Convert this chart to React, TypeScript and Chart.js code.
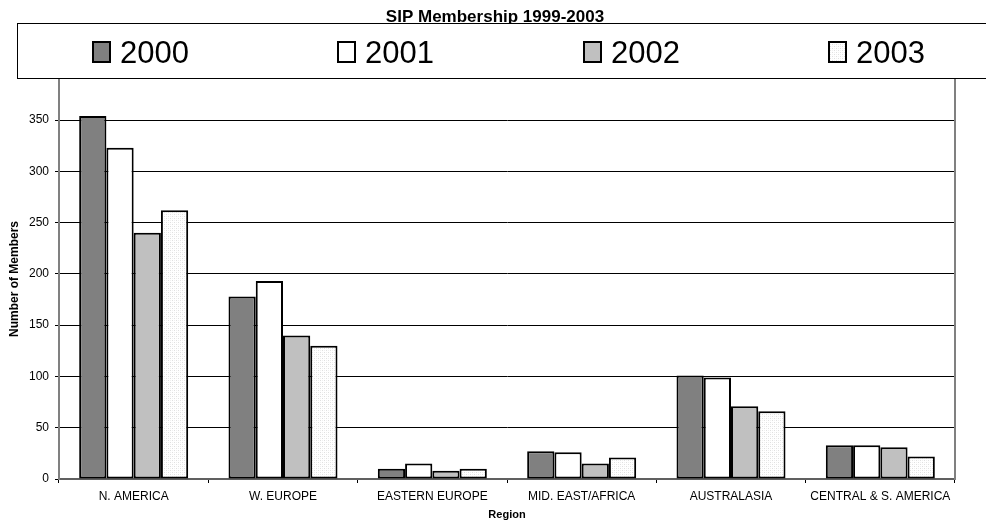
import { useEffect, useRef } from "react";
import { Chart, registerables } from "chart.js";

Chart.register(...registerables);

const chartTitle = "SIP Membership 1999-2003";
const regions = [
  "N. AMERICA",
  "W. EUROPE",
  "EASTERN EUROPE",
  "MID. EAST/AFRICA",
  "AUSTRALASIA",
  "CENTRAL & S. AMERICA",
];
const years = ["2000", "2001", "2002", "2003"];
const members2000 = [354, 178, 10, 27, 101, 33];
const members2001 = [323, 193, 15, 26, 99, 33];
const members2002 = [240, 140, 8, 15, 71, 31];
const members2003 = [262, 130, 10, 21, 66, 22];
const yAxisTitle = "Number of Members";
const xAxisTitle = "Region";

const FONT = "'Liberation Sans', Arial, Helvetica, sans-serif";

// Light dotted fill used for the 2003 series.
function makeDotPattern(): CanvasPattern | string {
  const tile = document.createElement("canvas");
  tile.width = 4;
  tile.height = 4;
  const t = tile.getContext("2d");
  if (!t) return "#f4f4f4";
  t.fillStyle = "#ffffff";
  t.fillRect(0, 0, 4, 4);
  t.fillStyle = "#e0e0e0";
  t.fillRect(0, 0, 1, 1);
  t.fillRect(2, 2, 1, 1);
  t.fillStyle = "#f0f0f0";
  t.fillRect(2, 0, 1, 1);
  t.fillRect(0, 2, 1, 1);
  const p = t.createPattern(tile, "repeat");
  return p || "#f4f4f4";
}

// Draws the chart title, the framed legend strip and the right frame of the plot.
const headerPlugin = {
  id: "headerAndFrame",
  afterDraw(chart: any) {
    const ctx: CanvasRenderingContext2D = chart.ctx;
    const area = chart.chartArea;
    ctx.save();

    ctx.strokeStyle = "#808080";
    ctx.lineWidth = 2;
    ctx.beginPath();
    ctx.moveTo(area.right, area.top);
    ctx.lineTo(area.right, area.bottom + 1);
    ctx.stroke();

    ctx.fillStyle = "#000";
    ctx.font = `bold 17px ${FONT}`;
    ctx.textAlign = "center";
    ctx.textBaseline = "alphabetic";
    ctx.fillText(chartTitle, 495, 22);

    // legend strip
    ctx.fillStyle = "#fff";
    ctx.fillRect(17, 23, chart.width, 56);
    ctx.strokeStyle = "#000";
    ctx.lineWidth = 1;
    ctx.strokeRect(17.5, 23.5, chart.width, 55);

    const step = 245.3;
    chart.data.datasets.forEach((ds: any, i: number) => {
      const x0 = Math.round(92 + i * step);
      ctx.fillStyle = ds.backgroundColor;
      ctx.fillRect(x0, 42, 18, 20);
      ctx.strokeStyle = "#000";
      ctx.lineWidth = 2;
      ctx.strokeRect(x0 + 1, 42, 17, 20);
      ctx.fillStyle = "#000";
      ctx.font = `31px ${FONT}`;
      ctx.textAlign = "left";
      ctx.textBaseline = "alphabetic";
      ctx.fillText(ds.label, x0 + 28, 63);
    });

    ctx.restore();
  },
};

export default function App() {
  const canvasRef = useRef<HTMLCanvasElement | null>(null);

  useEffect(() => {
    const canvas = canvasRef.current;
    if (!canvas) return;
    const dotted = makeDotPattern();
    const series = [members2000, members2001, members2002, members2003];
    const fills: any[] = ["#808080", "#ffffff", "#c0c0c0", dotted];

    const chart = new Chart(canvas, {
      type: "bar",
      data: {
        labels: regions,
        datasets: years.map((y, i) => ({
          label: y,
          data: series[i],
          backgroundColor: fills[i],
          borderColor: "#000",
          borderWidth: 2,
          borderSkipped: false,
          categoryPercentage: 0.73,
          barPercentage: 1,
        })),
      },
      options: {
        responsive: false,
        animation: false,
        devicePixelRatio: 1,
        layout: { padding: { top: 79, right: 31, left: 0, bottom: 0 } },
        plugins: {
          legend: { display: false },
          title: { display: false },
          tooltip: { enabled: false },
        },
        scales: {
          x: {
            offset: true,
            afterFit: (scale: any) => {
              scale.height = 46;
            },
            grid: {
              display: true,
              offset: true,
              drawOnChartArea: false,
              tickLength: 4,
              color: "#000",
            },
            border: { display: true, color: "#606060", width: 2 },
            ticks: {
              color: "#000",
              padding: 6,
              maxRotation: 0,
              autoSkip: false,
              font: { family: FONT, size: 12 },
            },
            title: {
              display: true,
              text: xAxisTitle,
              color: "#000",
              font: { family: FONT, size: 11, weight: "bold" },
              padding: { top: 0, bottom: 3 },
            },
          },
          y: {
            min: 0,
            max: 390,
            afterFit: (scale: any) => {
              scale.width = 59;
            },
            grid: {
              color: "#000",
              lineWidth: 1,
              tickLength: 4,
            },
            border: { display: true, color: "#808080", width: 2 },
            ticks: {
              stepSize: 50,
              includeBounds: false,
              color: "#000",
              padding: 6,
              font: { family: FONT, size: 12 },
            },
            title: {
              display: true,
              text: yAxisTitle,
              color: "#000",
              font: { family: FONT, size: 12, weight: "bold" },
              padding: { top: 7, bottom: 0 },
            },
          },
        },
      },
      plugins: [headerPlugin],
    } as any);

    return () => chart.destroy();
  }, []);

  return (
    <div style={{ position: "absolute", left: 0, top: 0, width: 986, height: 525, background: "#fff" }}>
      <canvas ref={canvasRef} width={986} height={525} />
    </div>
  );
}
